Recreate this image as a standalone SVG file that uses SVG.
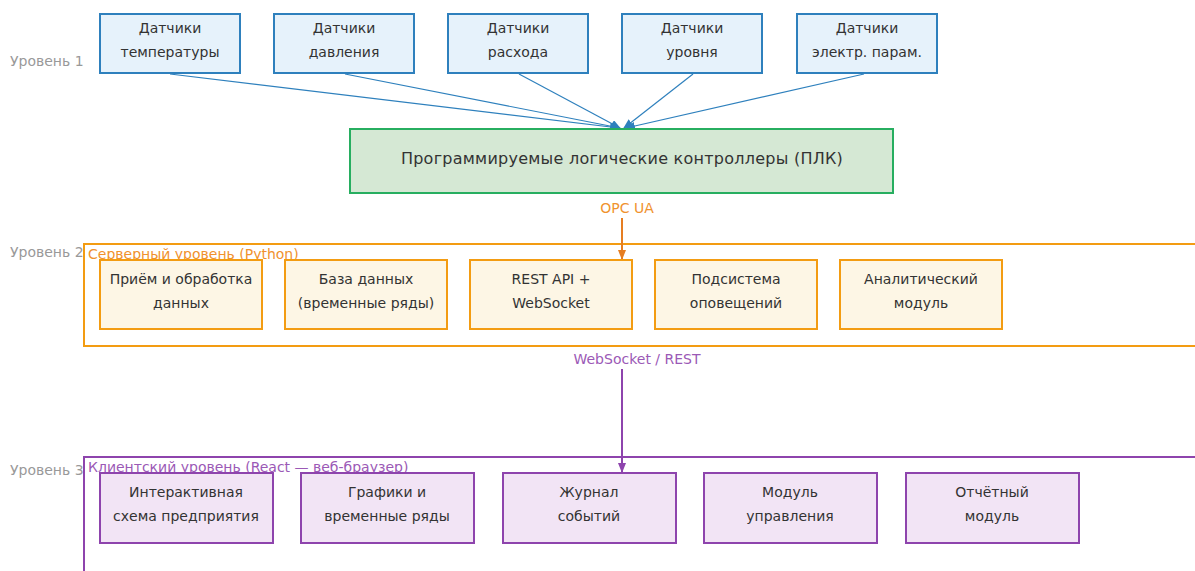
<svg xmlns="http://www.w3.org/2000/svg" width="1195" height="571" viewBox="0 0 1195 571">
<defs>
<style>
text{font-family:"DejaVu Sans",Verdana,sans-serif;}
.lvl{font-size:14px;fill:#999;}
.t{font-size:14px;fill:#333;text-anchor:middle;}
.big{font-size:16px;letter-spacing:0.25px;}
.sen{fill:#e6f2fb;stroke:#2e80bd;stroke-width:2;}
.plc{fill:#d5e8d4;stroke:#27ae60;stroke-width:2;}
.srv{fill:#fdf6e5;stroke:#f39c12;stroke-width:2;}
.cli{fill:#f2e4f5;stroke:#8e44ad;stroke-width:2;}
.cont-s{fill:none;stroke:#f39c12;stroke-width:2;}
.cont-c{fill:none;stroke:#8e44ad;stroke-width:2;}
.blue{stroke:#2e80bd;stroke-width:1.2;fill:none;}
</style>
<marker id="ab" markerWidth="10" markerHeight="8" refX="9" refY="4" orient="auto" markerUnits="userSpaceOnUse"><path d="M0,0 L10,4 L0,8 z" fill="#2e80bd"/></marker>
<marker id="ao" markerWidth="10" markerHeight="10" refX="9" refY="4" orient="auto" markerUnits="userSpaceOnUse"><path d="M0,0 L10,4 L0,8 z" fill="#e67e22"/></marker>
<marker id="ap" markerWidth="10" markerHeight="10" refX="9" refY="4" orient="auto" markerUnits="userSpaceOnUse"><path d="M0,0 L10,4 L0,8 z" fill="#8e44ad"/></marker>
</defs>
<rect width="1195" height="571" fill="#ffffff"/>
<text class="lvl" x="10" y="66">Уровень 1</text>
<text class="lvl" x="10" y="257">Уровень 2</text>
<text class="lvl" x="10" y="475">Уровень 3</text>

<g id="containers">
<rect class="cont-s" x="84" y="244" width="1130" height="102"/>
<text x="88" y="259" font-size="14" fill="#f0922e">Серверный уровень (Python)</text>
<rect class="cont-c" x="84" y="457" width="1130" height="130"/>
<text x="88" y="472" font-size="14" fill="#9b59b6">Клиентский уровень (React — веб-браузер)</text>
</g>

<g id="connectors">
<line class="blue" x1="170" y1="74" x2="619" y2="128" marker-end="url(#ab)"/>
<line class="blue" x1="345" y1="74" x2="620" y2="128" marker-end="url(#ab)"/>
<line class="blue" x1="519" y1="74" x2="620" y2="128" marker-end="url(#ab)"/>
<line class="blue" x1="693" y1="74" x2="624" y2="128" marker-end="url(#ab)" stroke-width="2"/>
<line class="blue" x1="864" y1="74" x2="626" y2="128" marker-end="url(#ab)"/>
<line x1="622" y1="218" x2="622" y2="259" stroke="#e67e22" stroke-width="2" marker-end="url(#ao)"/>
<text x="627" y="213" font-size="14" fill="#f0922e" text-anchor="middle">OPC UA</text>
<line x1="622" y1="369" x2="622" y2="472" stroke="#8e44ad" stroke-width="2" marker-end="url(#ap)"/>
<text x="637" y="364" font-size="14" fill="#9b59b6" text-anchor="middle">WebSocket / REST</text>
</g>

<g id="s1"><rect class="sen" x="100" y="14" width="140" height="59"/><text class="t" x="170" y="33">Датчики</text><text class="t" x="170" y="57">температуры</text></g>
<g id="s2"><rect class="sen" x="274" y="14" width="140" height="59"/><text class="t" x="344" y="33">Датчики</text><text class="t" x="344" y="57">давления</text></g>
<g id="s3"><rect class="sen" x="448" y="14" width="140" height="59"/><text class="t" x="518" y="33">Датчики</text><text class="t" x="518" y="57">расхода</text></g>
<g id="s4"><rect class="sen" x="622" y="14" width="140" height="59"/><text class="t" x="692" y="33">Датчики</text><text class="t" x="692" y="57">уровня</text></g>
<g id="s5"><rect class="sen" x="797" y="14" width="140" height="59"/><text class="t" x="867" y="33">Датчики</text><text class="t" x="867" y="57">электр. парам.</text></g>

<g id="plc"><rect class="plc" x="350" y="129" width="543" height="64"/><text class="t big" x="622" y="164">Программируемые логические контроллеры (ПЛК)</text></g>

<g id="v1"><rect class="srv" x="100" y="260" width="162" height="69"/><text class="t" x="181" y="284">Приём и обработка</text><text class="t" x="181" y="308">данных</text></g>
<g id="v2"><rect class="srv" x="285" y="260" width="162" height="69"/><text class="t" x="366" y="284">База данных</text><text class="t" x="366" y="308">(временные ряды)</text></g>
<g id="v3"><rect class="srv" x="470" y="260" width="162" height="69"/><text class="t" x="551" y="284">REST API +</text><text class="t" x="551" y="308">WebSocket</text></g>
<g id="v4"><rect class="srv" x="655" y="260" width="162" height="69"/><text class="t" x="736" y="284">Подсистема</text><text class="t" x="736" y="308">оповещений</text></g>
<g id="v5"><rect class="srv" x="840" y="260" width="162" height="69"/><text class="t" x="921" y="284">Аналитический</text><text class="t" x="921" y="308">модуль</text></g>

<g id="c1"><rect class="cli" x="100" y="473" width="173" height="70"/><text class="t" x="186" y="497">Интерактивная</text><text class="t" x="186" y="521">схема предприятия</text></g>
<g id="c2"><rect class="cli" x="301" y="473" width="173" height="70"/><text class="t" x="387" y="497">Графики и</text><text class="t" x="387" y="521">временные ряды</text></g>
<g id="c3"><rect class="cli" x="503" y="473" width="173" height="70"/><text class="t" x="589" y="497">Журнал</text><text class="t" x="589" y="521">событий</text></g>
<g id="c4"><rect class="cli" x="704" y="473" width="173" height="70"/><text class="t" x="790" y="497">Модуль</text><text class="t" x="790" y="521">управления</text></g>
<g id="c5"><rect class="cli" x="906" y="473" width="173" height="70"/><text class="t" x="992" y="497">Отчётный</text><text class="t" x="992" y="521">модуль</text></g>
</svg>
